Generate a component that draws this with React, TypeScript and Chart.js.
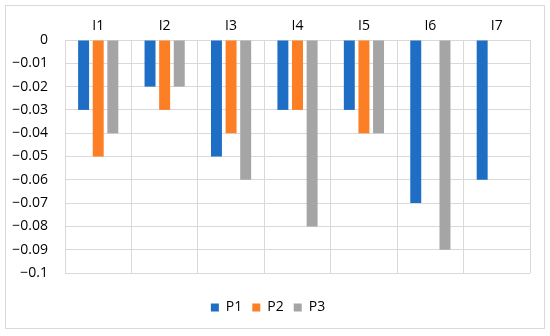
import React, { useEffect, useRef } from "react";
import { Chart, registerables } from "chart.js";

Chart.register(...registerables);

const categories = ["I1", "I2", "I3", "I4", "I5", "I6", "I7"];
const seriesP1 = [-0.03, -0.02, -0.05, -0.03, -0.03, -0.07, -0.06];
const seriesP2 = [-0.05, -0.03, -0.04, -0.03, -0.04, 0, 0];
const seriesP3 = [-0.04, -0.02, -0.06, -0.08, -0.04, -0.09, 0];
const seriesNames = ["P1", "P2", "P3"];
const seriesColors = ["#1E6EC6", "#FC7E25", "#A5A5A5"];

const FONT = "'Open Sans', sans-serif";
const GRID = "#d9d9d9";

export default function App() {
  const ref = useRef<HTMLCanvasElement | null>(null);

  useEffect(() => {
    if (!ref.current) return;
    const values = [seriesP1, seriesP2, seriesP3];
    const chart = new Chart(ref.current, {
      type: "bar",
      data: {
        labels: categories,
        datasets: values.map((v, i) => ({
          label: seriesNames[i],
          data: v,
          backgroundColor: seriesColors[i],
          borderWidth: 0,
          barPercentage: 0.75,
          categoryPercentage: 0.66,
          xAxisID: "x",
        })),
      },
      options: {
        animation: false,
        responsive: false,
        maintainAspectRatio: false,
        layout: { padding: { left: 0, right: 14, top: 0, bottom: 3.5 } },
        plugins: {
          legend: {
            position: "bottom",
            labels: {
              boxWidth: 8,
              boxHeight: 8,
              padding: 10,
              color: "#000",
              font: { family: FONT, size: 14, weight: "500" },
            },
          },
          tooltip: { enabled: false },
        },
        scales: {
          x: {
            position: "top",
            offset: true,
            grid: { color: GRID, drawTicks: false, offset: true },
            border: { color: GRID },
            ticks: { color: "#000", padding: 6, font: { family: FONT, size: 14, weight: "500" } },
            afterFit: (s: any) => {
              s.height = 34;
            },
          },
          x2: {
            type: "category",
            labels: categories,
            position: "bottom",
            grid: { display: false },
            border: { display: false },
            ticks: { display: false },
            afterFit: (s: any) => {
              s.height = 17.5;
            },
          },
          y: {
            min: -0.1,
            max: 0,
            grid: { color: GRID, drawTicks: false },
            border: { color: GRID },
            ticks: {
              stepSize: 0.01,
              color: "#000",
              padding: 17,
              font: { family: FONT, size: 14, weight: "500" },
              callback: (v: any) => {
                const n = Math.round(Number(v) * 100) / 100;
                if (n === 0) return "0";
                return "\u2212" + String(Math.abs(n));
              },
            },
            afterFit: (s: any) => {
              s.width = 59;
            },
          },
        },
      } as any,
    });
    return () => chart.destroy();
  }, []);

  return (
    <div
      style={{
        position: "fixed",
        left: 5,
        top: 5,
        width: 538,
        height: 322,
        border: "1px solid #d9d9d9",
        background: "#fff",
      }}
    >
      <canvas ref={ref} width={538} height={322} style={{ display: "block" }} />
    </div>
  );
}
